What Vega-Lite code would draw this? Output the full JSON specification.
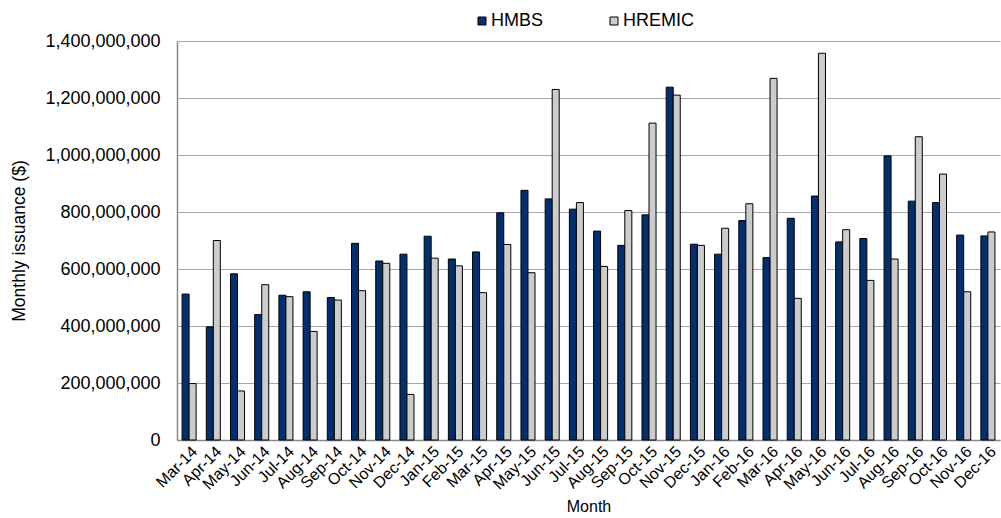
{
  "$schema": "https://vega.github.io/schema/vega-lite/v6.json",
  "width": 823,
  "height": 399,
  "autosize": {"type": "none"},
  "padding": {"left": 177, "top": 41, "right": 1, "bottom": 78},
  "background": "white",
  "config": {
    "font": "Liberation Sans",
    "view": {"stroke": null},
    "axis": {"labelColor": "#000", "titleColor": "#000", "titleFontWeight": "normal", "labelFont": "Liberation Sans", "titleFont": "Liberation Sans"},
    "legend": {"labelFont": "Liberation Sans", "labelColor": "#000"}
  },
  "data": {
    "values": [
      {"month": "Mar-14", "series": "HMBS", "value": 512000000}, {"month": "Mar-14", "series": "HREMIC", "value": 198000000},
      {"month": "Apr-14", "series": "HMBS", "value": 397000000}, {"month": "Apr-14", "series": "HREMIC", "value": 700000000},
      {"month": "May-14", "series": "HMBS", "value": 583000000}, {"month": "May-14", "series": "HREMIC", "value": 172000000},
      {"month": "Jun-14", "series": "HMBS", "value": 440000000}, {"month": "Jun-14", "series": "HREMIC", "value": 545000000},
      {"month": "Jul-14", "series": "HMBS", "value": 508000000}, {"month": "Jul-14", "series": "HREMIC", "value": 503000000},
      {"month": "Aug-14", "series": "HMBS", "value": 520000000}, {"month": "Aug-14", "series": "HREMIC", "value": 381000000},
      {"month": "Sep-14", "series": "HMBS", "value": 500000000}, {"month": "Sep-14", "series": "HREMIC", "value": 491000000},
      {"month": "Oct-14", "series": "HMBS", "value": 690000000}, {"month": "Oct-14", "series": "HREMIC", "value": 524000000},
      {"month": "Nov-14", "series": "HMBS", "value": 628000000}, {"month": "Nov-14", "series": "HREMIC", "value": 620000000},
      {"month": "Dec-14", "series": "HMBS", "value": 652000000}, {"month": "Dec-14", "series": "HREMIC", "value": 160000000},
      {"month": "Jan-15", "series": "HMBS", "value": 715000000}, {"month": "Jan-15", "series": "HREMIC", "value": 638000000},
      {"month": "Feb-15", "series": "HMBS", "value": 635000000}, {"month": "Feb-15", "series": "HREMIC", "value": 611000000},
      {"month": "Mar-15", "series": "HMBS", "value": 660000000}, {"month": "Mar-15", "series": "HREMIC", "value": 517000000},
      {"month": "Apr-15", "series": "HMBS", "value": 797000000}, {"month": "Apr-15", "series": "HREMIC", "value": 686000000},
      {"month": "May-15", "series": "HMBS", "value": 876000000}, {"month": "May-15", "series": "HREMIC", "value": 587000000},
      {"month": "Jun-15", "series": "HMBS", "value": 846000000}, {"month": "Jun-15", "series": "HREMIC", "value": 1230000000},
      {"month": "Jul-15", "series": "HMBS", "value": 810000000}, {"month": "Jul-15", "series": "HREMIC", "value": 833000000},
      {"month": "Aug-15", "series": "HMBS", "value": 733000000}, {"month": "Aug-15", "series": "HREMIC", "value": 609000000},
      {"month": "Sep-15", "series": "HMBS", "value": 683000000}, {"month": "Sep-15", "series": "HREMIC", "value": 805000000},
      {"month": "Oct-15", "series": "HMBS", "value": 790000000}, {"month": "Oct-15", "series": "HREMIC", "value": 1112000000},
      {"month": "Nov-15", "series": "HMBS", "value": 1238000000}, {"month": "Nov-15", "series": "HREMIC", "value": 1210000000},
      {"month": "Dec-15", "series": "HMBS", "value": 687000000}, {"month": "Dec-15", "series": "HREMIC", "value": 683000000},
      {"month": "Jan-16", "series": "HMBS", "value": 652000000}, {"month": "Jan-16", "series": "HREMIC", "value": 743000000},
      {"month": "Feb-16", "series": "HMBS", "value": 770000000}, {"month": "Feb-16", "series": "HREMIC", "value": 829000000},
      {"month": "Mar-16", "series": "HMBS", "value": 640000000}, {"month": "Mar-16", "series": "HREMIC", "value": 1269000000},
      {"month": "Apr-16", "series": "HMBS", "value": 778000000}, {"month": "Apr-16", "series": "HREMIC", "value": 497000000},
      {"month": "May-16", "series": "HMBS", "value": 856000000}, {"month": "May-16", "series": "HREMIC", "value": 1357000000},
      {"month": "Jun-16", "series": "HMBS", "value": 695000000}, {"month": "Jun-16", "series": "HREMIC", "value": 738000000},
      {"month": "Jul-16", "series": "HMBS", "value": 707000000}, {"month": "Jul-16", "series": "HREMIC", "value": 560000000},
      {"month": "Aug-16", "series": "HMBS", "value": 997000000}, {"month": "Aug-16", "series": "HREMIC", "value": 635000000},
      {"month": "Sep-16", "series": "HMBS", "value": 838000000}, {"month": "Sep-16", "series": "HREMIC", "value": 1064000000},
      {"month": "Oct-16", "series": "HMBS", "value": 833000000}, {"month": "Oct-16", "series": "HREMIC", "value": 933000000},
      {"month": "Nov-16", "series": "HMBS", "value": 719000000}, {"month": "Nov-16", "series": "HREMIC", "value": 520000000},
      {"month": "Dec-16", "series": "HMBS", "value": 716000000}, {"month": "Dec-16", "series": "HREMIC", "value": 730000000}
    ]
  },
  "mark": {"type": "bar", "stroke": "#000", "strokeWidth": 1},
  "encoding": {
    "x": {
      "field": "month", "type": "nominal", "sort": null,
      "scale": {"paddingInner": 0.42, "paddingOuter": 0.21},
      "axis": {
        "title": "Month", "titleFontSize": 16, "titlePadding": 6,
        "labelAngle": -45, "labelFontSize": 16, "labelAlign": "right", "labelBaseline": "top",
        "labelPadding": 3, "ticks": false, "domainColor": "#888", "domainWidth": 1.5
      }
    },
    "xOffset": {"field": "series", "type": "nominal", "sort": ["HMBS", "HREMIC"]},
    "y": {
      "field": "value", "type": "quantitative",
      "scale": {"domain": [0, 1400000000], "nice": false},
      "axis": {
        "title": "Monthly issuance ($)", "titleFontSize": 17.5, "titlePadding": 16,
        "values": [0, 200000000, 400000000, 600000000, 800000000, 1000000000, 1200000000, 1400000000],
        "format": ",d", "labelFontSize": 18, "labelPadding": 17, "ticks": false,
        "gridColor": "#a6a6a6", "gridWidth": 1, "domainColor": "#888", "domainWidth": 1.5
      }
    },
    "color": {
      "field": "series", "type": "nominal",
      "scale": {"domain": ["HMBS", "HREMIC"], "range": ["#032f6e", "#cccccc"]},
      "legend": {
        "title": null, "orient": "none", "direction": "horizontal",
        "legendX": 296, "legendY": -29,
        "symbolType": "square", "symbolSize": 64, "symbolStrokeColor": "#000", "symbolStrokeWidth": 1,
        "labelFontSize": 18, "labelOffset": 0, "columnPadding": 61
      }
    }
  }
}
